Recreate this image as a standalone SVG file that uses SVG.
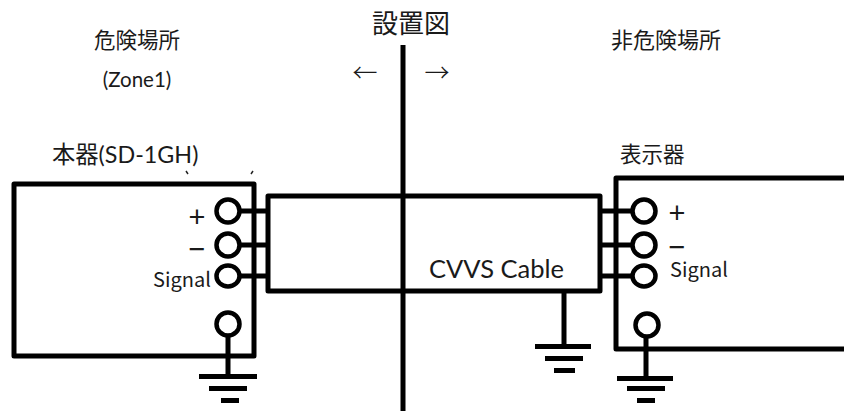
<svg xmlns="http://www.w3.org/2000/svg" width="844" height="412" viewBox="0 0 844 412">
<style>
text{font-family:"Lato","Noto Sans CJK JP",sans-serif;fill:#1a1a1a}
.cjk{font-family:"Noto Sans CJK JP",sans-serif}
.s{font-family:"Noto Sans CJK JP",sans-serif;font-size:20px}
.pm{font-family:"Liberation Sans",sans-serif;font-size:29px;text-anchor:middle}
.b{fill:none;stroke:#000;stroke-width:5;stroke-linejoin:round}
.w{stroke:#000;stroke-width:5;fill:none}
.c{fill:#fff;stroke:#000;stroke-width:4.5}
.g{fill:#000}
</style>
<rect width="844" height="412" fill="#fff"/>
<g id="divider"><path class="w" d="M403 45V411"/>
<text class="cjk" x="411" y="33" font-size="26" text-anchor="middle">設置図</text>
<text class="cjk" x="365" y="82" font-size="25" text-anchor="middle" font-weight="300">←</text>
<text class="cjk" x="437" y="82" font-size="25" text-anchor="middle" font-weight="300">→</text></g>
<g id="zone-labels">
<text class="cjk" x="137" y="48" font-size="21.5" text-anchor="middle">危険場所</text>
<text x="137" y="87" font-size="20.5" text-anchor="middle">(Zone1)</text>
<text class="cjk" x="666" y="48" font-size="22" text-anchor="middle">非危険場所</text></g>
<g id="connectors">
<path class="w" d="M240 211H268M240 245H268M240 276H268M600 211H632M600 245H632M600 276H632"/>
<path class="w" d="M228 336V378M564 291V346M646 337V378"/>
<path d="M186 171l2 3M251 174l2-3" stroke="#222" stroke-width="1.5" fill="none"/>
</g>
<g id="device"><rect class="b" x="14" y="184" width="240" height="172"/>
<text x="52" y="163" font-size="23.3">本器(SD-1GH)</text>
<text class="pm" x="197" y="227">+</text>
<text class="pm" x="197" y="259">−</text>
<text class="s" x="153" y="287">Signal</text>
<circle class="c" cx="228" cy="211" r="11.5"/><circle class="c" cx="228" cy="245" r="11.5"/><ellipse class="c" cx="228" cy="276" rx="11.5" ry="10.5"/><circle class="c" cx="228" cy="324" r="11.5"/></g>
<g id="cable"><rect class="b" x="268" y="196" width="332" height="95"/>
<text x="429" y="278" font-size="25.5">CVVS Cable</text></g>
<g id="display"><path class="b" d="M844 178H616V349H844"/>
<text class="cjk" x="620" y="162" font-size="21.5">表示器</text>
<text class="pm" x="677" y="223">+</text>
<text class="pm" x="677" y="257">−</text>
<text class="s" x="670" y="277">Signal</text>
<circle class="c" cx="644" cy="211" r="11.5"/><circle class="c" cx="644" cy="245" r="11.5"/><ellipse class="c" cx="644" cy="276" rx="11.5" ry="10.5"/><circle class="c" cx="647" cy="325" r="11.5"/></g>
<g id="ground-left" class="g"><rect x="199" y="374" width="58" height="5"/><rect x="209" y="386" width="38" height="5"/><rect x="221" y="398" width="18" height="5"/></g>
<g id="ground-cable" class="g"><rect x="535" y="344" width="56" height="5"/><rect x="545" y="356" width="38" height="5"/><rect x="554" y="368" width="21" height="5"/></g>
<g id="ground-right" class="g"><rect x="617" y="376" width="56" height="5"/><rect x="627" y="386" width="38" height="5"/><rect x="637" y="398" width="18" height="5"/></g>
</svg>
